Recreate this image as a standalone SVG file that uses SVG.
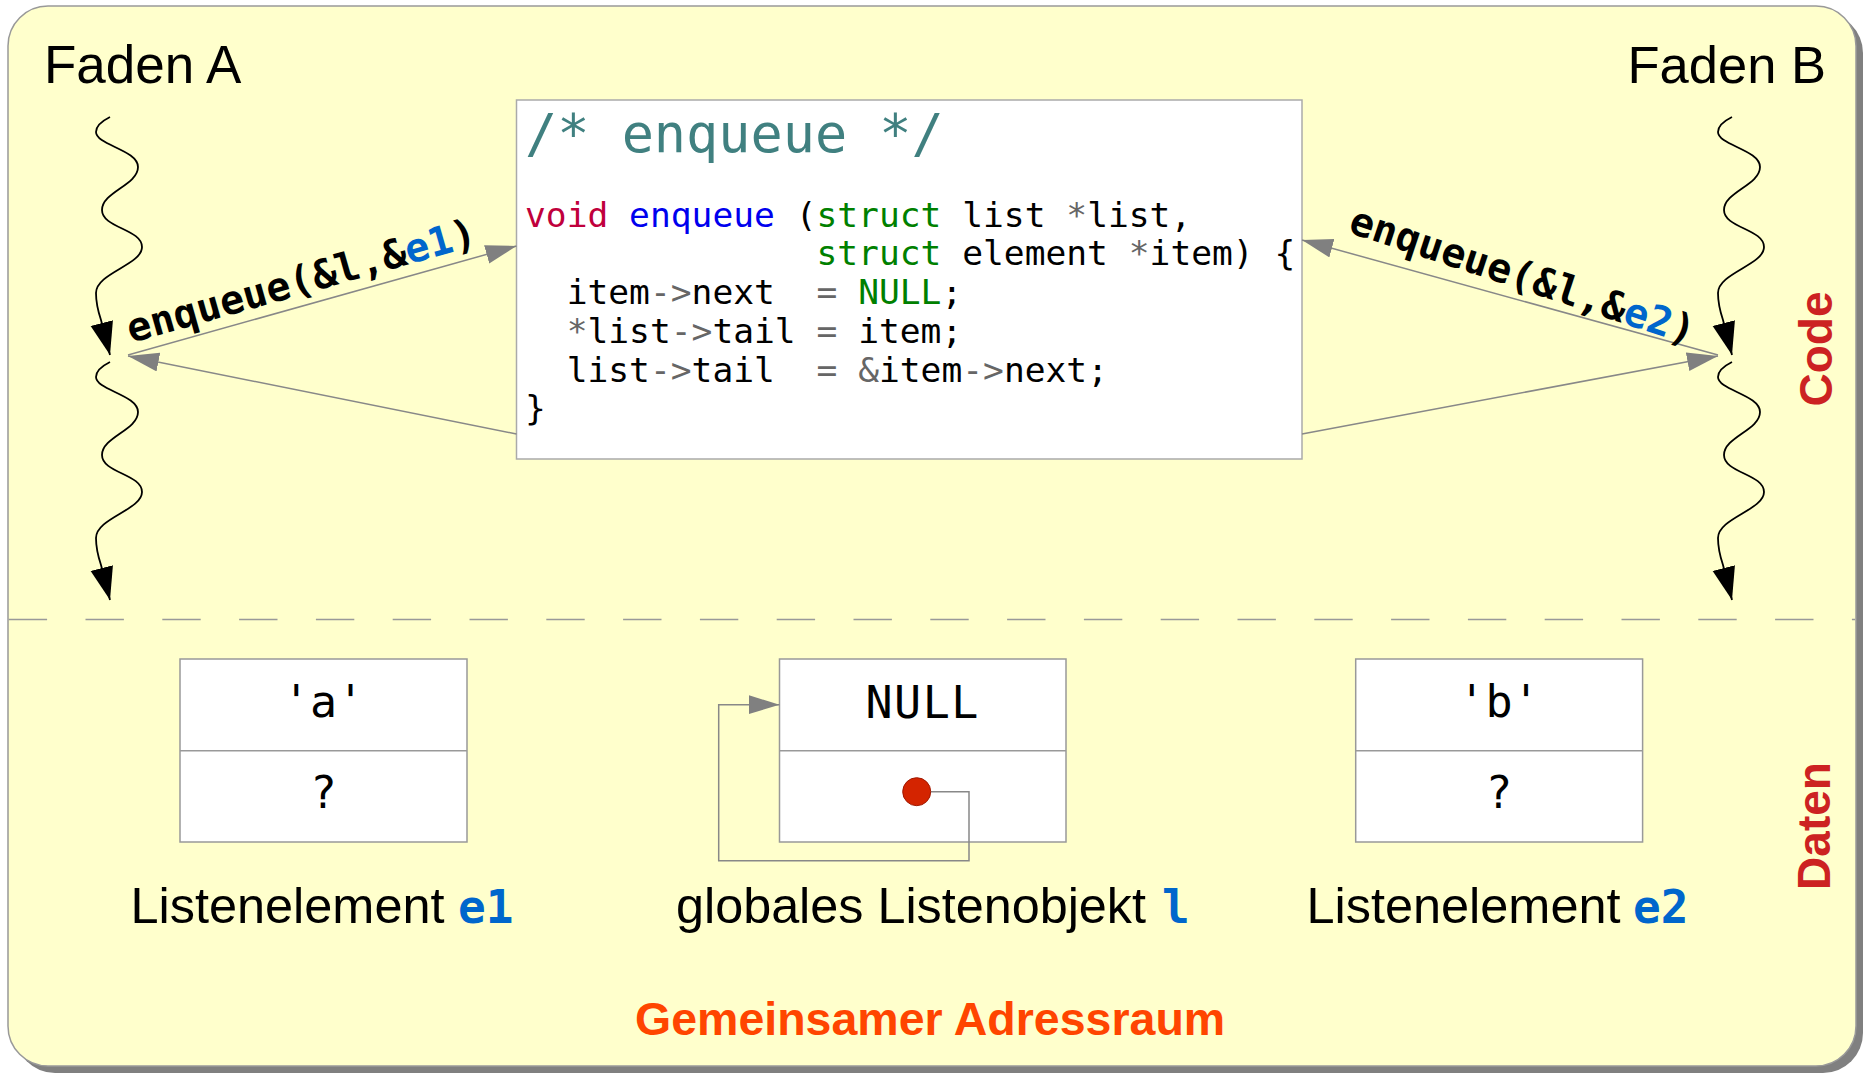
<svg xmlns="http://www.w3.org/2000/svg" width="1868" height="1074" viewBox="0 0 1868 1074">
  <style>
    .sans { font-family: "Liberation Sans", Arial, sans-serif; }
    .mono { font-family: "DejaVu Sans Mono", "Liberation Mono", monospace; }
    .code { font-family: "DejaVu Sans Mono", "Liberation Mono", monospace; font-size: 34.6px; fill: #000; white-space: pre; }
    .kw { fill: #c0003c; }
    .fn { fill: #0000ee; }
    .ty { fill: #008000; }
    .op { fill: #666666; }
    .cm { fill: #408080; }
    .blue { fill: #0066cc; }
    .box { fill: #ffffff; stroke: #999999; stroke-width: 1.5; }
    .wave { fill: none; stroke: #000; stroke-width: 1.8; }
    .conn { fill: none; stroke: #888888; stroke-width: 1.5; }
    .label { font-family: "Liberation Sans", Arial, sans-serif; font-size: 50px; fill: #000; }
    .side { font-family: "Liberation Sans", Arial, sans-serif; font-size: 46px; font-weight: bold; fill: #cc2222; }
    .call { font-family: "DejaVu Sans Mono", "Liberation Mono", monospace; font-size: 40px; font-weight: bold; fill: #000; }
  </style>
  <defs>
    <marker id="blackHead" markerUnits="userSpaceOnUse" markerWidth="34" markerHeight="24" refX="33" refY="11.5" orient="auto">
      <path d="M0,0 L33,11.5 L0,23 z" fill="#000"/>
    </marker>
    <marker id="grayHead" markerUnits="userSpaceOnUse" markerWidth="32" markerHeight="20" refX="31" refY="9.5" orient="auto">
      <path d="M0,0 L31,9.5 L0,19 z" fill="#808080"/>
    </marker>
    <path id="wave" d="M110,117 C102,121 96,126 96,132 C96,145 138,150 138,167 C138,185 102,192 102,210 C102,228 142,229 142,247 C142,265 96,273 96,293 C96,303 98,311 101,320 L110,355"/>
  </defs>

  <!-- background / shared address space -->
  <g id="address-space">
    <rect x="15" y="13" width="1848" height="1060" rx="40" ry="40" fill="#808080"/>
    <rect x="8" y="6" width="1848" height="1060" rx="40" ry="40" fill="#ffffcc" stroke="#999999" stroke-width="1.5"/>
    <line x1="8.7" y1="619.5" x2="1855" y2="619.5" stroke="#999999" stroke-width="1.5" stroke-dasharray="38.4 38.4"/>
    <text class="side" transform="translate(1832,349) rotate(-90)" text-anchor="middle">Code</text>
    <text class="side" transform="translate(1830,826) rotate(-90)" text-anchor="middle">Daten</text>
    <text class="sans" x="635" y="1035" font-size="46.5" font-weight="bold" fill="#ff4500">Gemeinsamer Adressraum</text>
  </g>

  <!-- threads -->
  <g id="thread-a">
    <text class="sans" x="44" y="83" font-size="53" fill="#000">Faden A</text>
  </g>
  <g id="thread-b">
    <text class="sans" x="1826" y="83" font-size="52.5" fill="#000" text-anchor="end">Faden B</text>
  </g>

  <!-- code box -->
  <g id="code">
    <rect x="516.5" y="100" width="785.5" height="359" fill="#ffffff" stroke="#aaaaaa" stroke-width="1.5"/>
    <text class="mono cm" x="525" y="152" font-size="53.5">/* enqueue */</text>
    <text class="code" x="525" y="226.5" xml:space="preserve"><tspan class="kw">void</tspan> <tspan class="fn">enqueue</tspan> (<tspan class="ty">struct</tspan> list <tspan class="op">*</tspan>list,</text>
    <text class="code" x="525" y="265.3" xml:space="preserve">              <tspan class="ty">struct</tspan> element <tspan class="op">*</tspan>item) {</text>
    <text class="code" x="525" y="304" xml:space="preserve">  item<tspan class="op">-&gt;</tspan>next  <tspan class="op">=</tspan> <tspan class="ty">NULL</tspan>;</text>
    <text class="code" x="525" y="342.8" xml:space="preserve">  <tspan class="op">*</tspan>list<tspan class="op">-&gt;</tspan>tail <tspan class="op">=</tspan> item;</text>
    <text class="code" x="525" y="381.5" xml:space="preserve">  list<tspan class="op">-&gt;</tspan>tail  <tspan class="op">=</tspan> <tspan class="op">&amp;</tspan>item<tspan class="op">-&gt;</tspan>next;</text>
    <text class="code" x="525" y="420" xml:space="preserve">}</text>
  </g>

  <!-- data: list element e1 -->
  <g id="element-e1">
    <rect class="box" x="180" y="659" width="287" height="183"/>
    <line x1="180" y1="750.7" x2="467" y2="750.7" stroke="#999999" stroke-width="1.5"/>
    <text class="mono" x="323.5" y="717" font-size="45" text-anchor="middle">'a'</text>
    <text class="mono" x="323.5" y="808" font-size="44" text-anchor="middle">?</text>
    <text class="label" x="130.5" y="923" textLength="314" lengthAdjust="spacingAndGlyphs">Listenelement</text>
    <text class="mono blue" x="458" y="923" font-weight="bold" font-size="46">e1</text>
  </g>

  <!-- data: global list object l -->
  <g id="list-l">
    <rect class="box" x="779.5" y="659" width="286.5" height="183"/>
    <line x1="779.5" y1="750.7" x2="1066" y2="750.7" stroke="#999999" stroke-width="1.5"/>
    <text class="mono" x="922.7" y="718" font-size="45" text-anchor="middle" letter-spacing="1.5">NULL</text>
    <text class="label" x="676" y="923" textLength="470" lengthAdjust="spacingAndGlyphs">globales Listenobjekt</text>
    <text class="mono blue" x="1162" y="923" font-weight="bold" font-size="46">l</text>
  </g>

  <!-- data: list element e2 -->
  <g id="element-e2">
    <rect class="box" x="1355.7" y="659" width="286.9" height="183"/>
    <line x1="1355.7" y1="750.7" x2="1642.6" y2="750.7" stroke="#999999" stroke-width="1.5"/>
    <text class="mono" x="1499" y="717" font-size="45" text-anchor="middle">'b'</text>
    <text class="mono" x="1499" y="808" font-size="44" text-anchor="middle">?</text>
    <text class="label" x="1306.5" y="923" textLength="314" lengthAdjust="spacingAndGlyphs">Listenelement</text>
    <text class="mono blue" x="1633" y="923" font-weight="bold" font-size="46">e2</text>
  </g>

  <!-- connectors -->
  <g id="connectors">
    <use href="#wave" class="wave" marker-end="url(#blackHead)"/>
    <use href="#wave" class="wave" transform="translate(0,245)" marker-end="url(#blackHead)"/>
    <use href="#wave" class="wave" transform="translate(1622,0)" marker-end="url(#blackHead)"/>
    <use href="#wave" class="wave" transform="translate(1622,245)" marker-end="url(#blackHead)"/>

    <line class="conn" x1="128" y1="355" x2="516.5" y2="246" marker-end="url(#grayHead)"/>
    <line class="conn" x1="516.5" y1="434" x2="128" y2="356" marker-end="url(#grayHead)"/>
    <line class="conn" x1="1718" y1="355" x2="1302" y2="240" marker-end="url(#grayHead)"/>
    <line class="conn" x1="1302" y1="434" x2="1718" y2="356" marker-end="url(#grayHead)"/>

    <text class="call" transform="translate(131,343) rotate(-15.8)">enqueue(&amp;l,&amp;<tspan class="blue">e1</tspan>)</text>
    <text class="call" transform="translate(1347,232) rotate(18.3)">enqueue(&amp;l,&amp;<tspan class="blue">e2</tspan>)</text>

    <path class="conn" d="M931,791.7 H969 V860.7 H718.7 V704.7 H779.5" marker-end="url(#grayHead)"/>
    <circle cx="916.7" cy="791.7" r="14" fill="#d42400" stroke="#a01800" stroke-width="1"/>
  </g>
</svg>
